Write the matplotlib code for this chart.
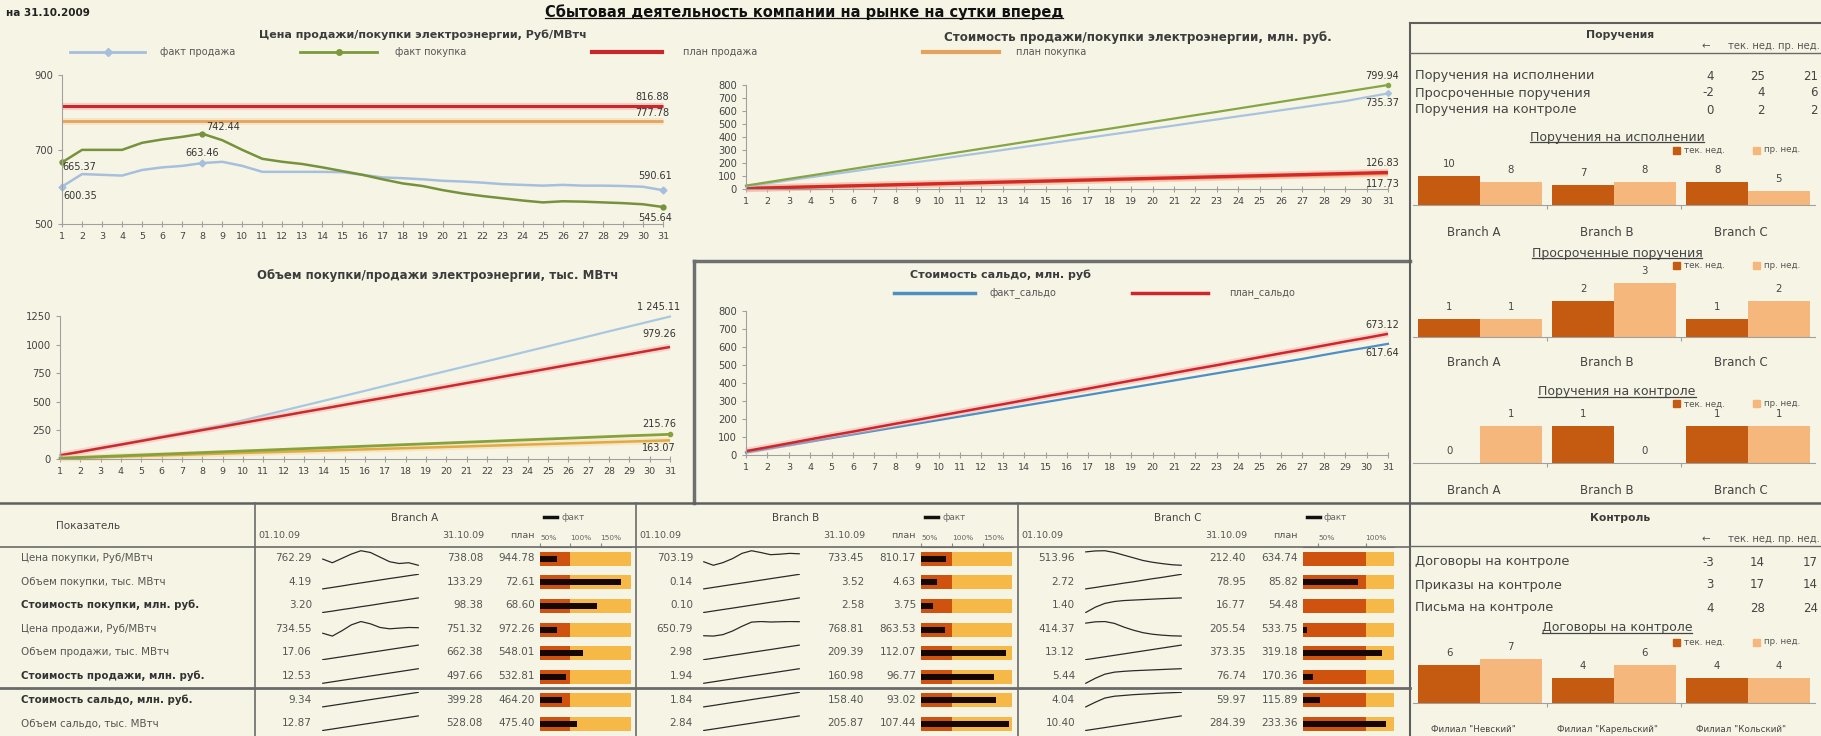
import matplotlib
matplotlib.use("Agg")
import matplotlib.pyplot as plt
from matplotlib.lines import Line2D
from matplotlib.patches import Rectangle

plt.rcParams["font.family"] = ["DejaVu Sans"]

# ---------------- данные ----------------
days = list(range(1, 32))

# цена, Руб/МВтч
sale_price_fact = [600.35, 634, 632, 630, 645, 652, 656, 663.46, 667, 656, 640, 640, 640, 640, 639, 632,
                   625, 623, 620, 616, 614, 611, 607, 605, 603, 605, 603, 603, 602, 600, 590.61]
buy_price_fact = [665.37, 699, 699, 699, 718, 727, 734, 742.44, 725, 699, 675, 667, 661, 652, 642, 632,
                  620, 609, 602, 591, 582, 575, 569, 563, 558, 561, 560, 558, 556, 553, 545.64]
sale_price_plan = 816.88
buy_price_plan = 777.78

# стоимость, млн. руб. (накопительно)
sale_cost_plan = [26, 52, 78, 103, 129, 155, 181, 206, 232, 258, 284, 310, 335, 361, 387, 413,
                  439, 464, 490, 516, 542, 568, 593, 619, 645, 671, 697, 722, 748, 774, 799.94]
sale_cost_fact = [19.9, 43, 67, 90, 113, 136, 160, 183, 207, 230, 254, 277, 300, 324, 347, 371,
                  394, 418, 441, 465, 488, 512, 535, 559, 582, 606, 629, 653, 676, 706, 735.37]
buy_cost_plan = [4.1, 8.2, 12.3, 16.4, 20.5, 24.5, 28.6, 32.7, 36.8, 40.9, 45.0, 49.1, 53.2, 57.3, 61.4, 65.5,
                 69.5, 73.6, 77.7, 81.8, 85.9, 90.0, 94.1, 98.2, 102.3, 106.4, 110.5, 114.6, 118.6, 122.7, 126.83]
buy_cost_fact = [4.7, 8.5, 12.3, 16.0, 19.8, 23.6, 27.4, 31.1, 34.9, 38.7, 42.4, 46.2, 50.0, 53.7, 57.5, 61.3,
                 65.0, 68.8, 72.6, 76.3, 80.1, 83.9, 87.6, 91.4, 95.2, 98.9, 102.7, 106.5, 110.2, 114.0, 117.73]

# объем, тыс. МВтч (накопительно)
sale_vol_fact = [33, 65, 97, 130, 163, 196, 229, 262, 295, 338, 381, 424, 467, 510, 553, 596,
                 640, 683, 726, 769, 812, 855, 898, 942, 985, 1029, 1072, 1116, 1159, 1202, 1245.11]
sale_vol_plan = [31.6, 63, 95, 126, 158, 190, 221, 253, 284, 316, 348, 379, 411, 442, 474, 506,
                 537, 569, 600, 632, 664, 695, 727, 758, 790, 822, 853, 885, 916, 948, 979.26]
buy_vol_fact = [7.1, 14, 21, 28, 35, 42, 49, 56, 63, 70, 77, 84, 91, 98, 105, 112,
                119, 126, 133, 140, 147, 154, 161, 168, 175, 182, 189, 196, 203, 209, 215.76]
buy_vol_plan = [5.3, 10.5, 15.8, 21.0, 26.3, 31.6, 36.8, 42.1, 47.3, 52.6, 57.9, 63.1, 68.4, 73.6, 78.9, 84.2,
                89.4, 94.7, 99.9, 105.2, 110.4, 115.7, 121.0, 126.2, 131.5, 136.7, 142.0, 147.3, 152.5, 157.8, 163.07]

# сальдо, млн. руб.
saldo_plan = [21.7, 43, 65, 87, 109, 130, 152, 174, 195, 217, 239, 261, 282, 304, 326, 347,
              369, 391, 413, 434, 456, 478, 499, 521, 543, 565, 586, 608, 630, 651, 673.12]
saldo_fact = [14.2, 34, 54, 74, 94, 114, 134, 154, 174, 194, 214, 234, 254, 274, 294, 314,
              334, 354, 374, 394, 414, 434, 454, 474, 494, 514, 534, 556, 577, 597, 617.64]

# таблица по филиалам
row_labels = ["Цена покупки, Руб/МВтч", "Объем покупки, тыс. МВтч", "Стоимость покупки, млн. руб.",
              "Цена продажи, Руб/МВтч", "Объем продажи, тыс. МВтч", "Стоимость продажи, млн. руб.",
              "Стоимость сальдо, млн. руб.", "Объем сальдо, тыс. МВтч"]
bold_rows = [2, 5, 6]
branch_names = ["Branch A", "Branch B", "Branch C"]

a_start = [762.29, 4.19, 3.20, 734.55, 17.06, 12.53, 9.34, 12.87]
a_end = [738.08, 133.29, 98.38, 751.32, 662.38, 497.66, 399.28, 528.08]
a_plan = [944.78, 72.61, 68.60, 972.26, 548.01, 532.81, 464.20, 475.40]
b_start = [703.19, 0.14, 0.10, 650.79, 2.98, 1.94, 1.84, 2.84]
b_end = [733.45, 3.52, 2.58, 768.81, 209.39, 160.98, 158.40, 205.87]
b_plan = [810.17, 4.63, 3.75, 863.53, 112.07, 96.77, 93.02, 107.44]
c_start = [513.96, 2.72, 1.40, 414.37, 13.12, 5.44, 4.04, 10.40]
c_end = [212.40, 78.95, 16.77, 205.54, 373.35, 76.74, 59.97, 284.39]
c_plan = [634.74, 85.82, 54.48, 533.75, 319.18, 170.36, 115.89, 233.36]

a_spark = [
    [762.29, 748, 765, 782, 795, 788, 770, 752, 745, 748, 738.08],
    [4.19, 17, 30, 44, 57, 70, 83, 96, 108, 121, 133.29],
    [3.20, 12, 22, 31, 41, 50, 60, 70, 79, 89, 98.38],
    [734.55, 726, 742, 760, 770, 763, 752, 748, 750, 752, 751.32],
    [17.06, 82, 146, 210, 275, 340, 404, 469, 533, 598, 662.38],
    [12.53, 61, 110, 158, 206, 255, 303, 352, 400, 449, 497.66],
    [9.34, 48, 87, 126, 165, 204, 243, 282, 321, 360, 399.28],
    [12.87, 64, 116, 167, 219, 270, 322, 374, 425, 477, 528.08],
]
b_spark = [
    [703.19, 690, 700, 715, 735, 745, 738, 730, 732, 735, 733.45],
    [0.14, 0.48, 0.82, 1.16, 1.49, 1.83, 2.17, 2.51, 2.85, 3.18, 3.52],
    [0.10, 0.35, 0.60, 0.84, 1.09, 1.34, 1.59, 1.84, 2.08, 2.33, 2.58],
    [650.79, 648, 660, 690, 730, 765, 770, 766, 768, 770, 768.81],
    [2.98, 23, 44, 65, 85, 106, 127, 147, 168, 189, 209.39],
    [1.94, 18, 34, 50, 66, 82, 97, 113, 129, 145, 160.98],
    [1.84, 17, 33, 49, 64, 80, 96, 111, 127, 143, 158.40],
    [2.84, 23, 43, 64, 84, 104, 125, 145, 165, 186, 205.87],
]
c_spark = [
    [513.96, 535, 540, 500, 440, 380, 320, 280, 250, 225, 212.40],
    [2.72, 10, 18, 25, 33, 40, 48, 56, 63, 71, 78.95],
    [1.40, 7, 11, 13, 14, 14.5, 15, 15.5, 16, 16.4, 16.77],
    [414.37, 435, 440, 410, 350, 300, 260, 235, 220, 210, 205.54],
    [13.12, 49, 85, 121, 157, 193, 229, 265, 301, 337, 373.35],
    [5.44, 30, 50, 60, 64, 67, 69, 71, 73, 75, 76.74],
    [4.04, 22, 38, 45, 48, 51, 53, 55, 57, 58.5, 59.97],
    [10.40, 38, 65, 93, 120, 148, 175, 202, 230, 257, 284.39],
]

# поручения / контроль
orders_labels = ["Поручения на исполнении", "Просроченные поручения", "Поручения на контроле"]
orders_cur = [25, 4, 2]
orders_prev = [21, 6, 2]
exec_cur = [10, 7, 8]
exec_prev = [8, 8, 5]
overdue_cur = [1, 2, 1]
overdue_prev = [1, 3, 2]
oncontrol_cur = [0, 1, 1]
oncontrol_prev = [1, 0, 1]

control_labels = ["Договоры на контроле", "Приказы на контроле", "Письма на контроле"]
control_cur = [14, 17, 28]
control_prev = [17, 14, 24]
filials = ['Филиал "Невский"', 'Филиал "Карельский"', 'Филиал "Кольский"']
contracts_cur = [6, 4, 4]
contracts_prev = [7, 6, 4]

# ---------------- оформление ----------------
W, H = 1821, 736
BG = "#f6f5e5"
AXC = "#a0a0a0"
TXT = "#3c3c3c"
DARK = "#c55a11"
LIGHT = "#f5b77c"
B_DARK = "#cf520e"
B_LIGHT = "#f6b846"

fig = plt.figure(figsize=(W / 100, H / 100), dpi=100)
fig.patch.set_facecolor(BG)
underlined = []


def fx(x):
    return x / W


def fy(y):
    return 1 - y / H


def axes_px(x0, y0, x1, y1):
    ax = fig.add_axes([fx(x0), fy(y1), (x1 - x0) / W, (y1 - y0) / H])
    ax.set_facecolor("none")
    return ax


def text_px(x, y, s, **kw):
    kw.setdefault("va", "center")
    kw.setdefault("color", TXT)
    return fig.text(fx(x), fy(y), s, **kw)


def hline(x0, x1, y, color="#6a6a6a", lw=1.0):
    fig.add_artist(Line2D([fx(x0), fx(x1)], [fy(y), fy(y)], color=color, lw=lw))


def vline(x, y0, y1, color="#6a6a6a", lw=1.0):
    fig.add_artist(Line2D([fx(x), fx(x)], [fy(y0), fy(y1)], color=color, lw=lw))


def fmt(v):
    return f"{v:,.2f}".replace(",", " ")


def style_lines(ax, ylim, yticks):
    ax.set_xlim(1, 31)
    ax.set_ylim(*ylim)
    ax.set_xticks(days)
    ax.set_yticks(yticks)
    for s in ["top", "right"]:
        ax.spines[s].set_visible(False)
    for s in ["left", "bottom"]:
        ax.spines[s].set_color(AXC)
    ax.tick_params(axis="x", labelsize=6.8, color=AXC, labelcolor="#444", direction="inout", length=4, pad=4)
    ax.tick_params(axis="y", labelsize=7.2, color=AXC, labelcolor="#444", direction="out", length=3)


def label(ax, x, v, dx, dy, ha="center", va="bottom"):
    ax.annotate(fmt(v), (x, v), xytext=(dx, dy), textcoords="offset points",
                ha=ha, va=va, fontsize=7, color="#333", annotation_clip=False)


def glow_line(ax, x, y, color, glow, lw):
    ax.plot(x, y, color=glow, lw=lw + 3, alpha=0.45, clip_on=False, solid_capstyle="butt")
    ax.plot(x, y, color=color, lw=lw, clip_on=False, solid_capstyle="butt")


# ---- заголовок ----
text_px(6, 13, "на 31.10.2009", fontsize=7.5, fontweight="bold", color="#222")
underlined.append(text_px(804, 12, "Сбытовая деятельность компании на рынке на сутки вперед",
                          ha="center", fontsize=10.5, fontweight="bold", color="#111"))

text_px(423, 35, "Цена продажи/покупки электроэнергии, Руб/МВтч", ha="center", fontsize=8, fontweight="bold")
text_px(1138, 37, "Стоимость продажи/покупки электроэнергии, млн. руб.", ha="center", fontsize=8.6,
        fontweight="bold")

# общая легенда
legend_items = [(70, 145, 160, "факт продажа", "#a6bfdc", "D"),
                (300, 377, 395, "факт покупка", "#7a9a3c", "o"),
                (592, 662, 683, "план продажа", "#c8282a", None),
                (923, 999, 1016, "план покупка", "#e3a35f", None)]
for x0, x1, xt, name, col, mk in legend_items:
    fig.add_artist(Line2D([fx(x0), fx(x1)], [fy(52), fy(52)], color=col, lw=3 if mk is None else 2))
    if mk:
        fig.add_artist(Line2D([fx((x0 + x1) / 2)], [fy(52)], color=col, marker=mk, ms=4))
    text_px(xt, 52, name, fontsize=7, color="#555")

# ---- цена ----
ax1 = axes_px(62, 75, 663, 224)
style_lines(ax1, (500, 900), [500, 700, 900])
glow_line(ax1, [1, 31], [sale_price_plan] * 2, "#c8282a", "#f3a5a5", 2.2)
glow_line(ax1, [1, 31], [buy_price_plan] * 2, "#e3a35f", "#f7d4a4", 2.0)
ax1.plot(days, sale_price_fact, color="#a6bfdc", lw=1.8, marker="D", ms=3.5, markevery=[0, 7, 30], clip_on=False)
ax1.plot(days, buy_price_fact, color="#76923c", lw=1.8, marker="o", ms=3.5, markevery=[0, 7, 30], clip_on=False)
label(ax1, 31, sale_price_plan, -8, 3)
label(ax1, 31, buy_price_plan, -8, 2)
label(ax1, 1, buy_price_fact[0], 0, -3, ha="left", va="center")
label(ax1, 1, sale_price_fact[0], 1, -7, ha="left", va="center")
label(ax1, 8, sale_price_fact[7], 0, 4)
label(ax1, 8, buy_price_fact[7], 3, 1, ha="left")
label(ax1, 31, sale_price_fact[30], -6, 7)
label(ax1, 31, buy_price_fact[30], -6, -4, va="top")

# ---- стоимость ----
ax2 = axes_px(746, 85, 1388, 189)
style_lines(ax2, (0, 800), list(range(0, 801, 100)))
glow_line(ax2, days, buy_cost_fact, "#e9a14f", "#f7d1a0", 2.0)
glow_line(ax2, days, buy_cost_plan, "#d42a25", "#f2a3a0", 2.4)
ax2.plot(days, sale_cost_fact, color="#a9c3de", lw=1.6, marker="D", ms=3, markevery=[30], clip_on=False)
ax2.plot(days, sale_cost_plan, color="#86a545", lw=1.6, marker="o", ms=3, markevery=[30], clip_on=False)
label(ax2, 31, sale_cost_plan[30], -4, 3)
label(ax2, 31, sale_cost_fact[30], -4, -3, va="top")
label(ax2, 31, buy_cost_plan[30], -4, 3)
label(ax2, 31, buy_cost_fact[30], -4, -4, va="top")

# ---- объем ----
text_px(438, 275, "Объем покупки/продажи электроэнергии, тыс. МВтч", ha="center", fontsize=8.5,
        fontweight="bold")
ax3 = axes_px(60, 316, 670, 459)
style_lines(ax3, (0, 1250), [0, 250, 500, 750, 1000, 1250])
ax3.plot(days, sale_vol_fact, color="#a8c8df", lw=1.6, clip_on=False)
glow_line(ax3, days, sale_vol_plan, "#cc2a2a", "#f2b0b0", 1.8)
glow_line(ax3, days, buy_vol_plan, "#e0aa45", "#f5d7a0", 1.8)
ax3.plot(days, buy_vol_fact, color="#86a23c", lw=2.0, marker="o", ms=3, markevery=[30], clip_on=False)
label(ax3, 31, sale_vol_fact[30], -8, 3)
label(ax3, 31, sale_vol_plan[30], -8, 6)
label(ax3, 31, buy_vol_fact[30], -8, 4)
label(ax3, 31, buy_vol_plan[30], -8, -2, va="top")

# ---- сальдо ----
hline(694, 1410, 261, color="#6f6f6f", lw=2.5)
vline(694, 261, 503, color="#6f6f6f", lw=2.5)
text_px(1000, 275, "Стоимость сальдо, млн. руб", ha="center", fontsize=8, fontweight="bold")
for x0, x1, xt, name, col in [(894, 975, 990, "факт_сальдо", "#4d8fc4"),
                              (1132, 1208, 1229, "план_сальдо", "#d0252b")]:
    fig.add_artist(Line2D([fx(x0), fx(x1)], [fy(293), fy(293)], color=col, lw=2.5))
    text_px(xt, 293, name, fontsize=7, color="#555")
ax4 = axes_px(746, 311, 1388, 455)
style_lines(ax4, (0, 800), list(range(0, 801, 100)))
ax4.plot(days, saldo_fact, color="#4d8fc4", lw=1.6, clip_on=False)
glow_line(ax4, days, saldo_plan, "#d0252b", "#f2a8a8", 1.8)
label(ax4, 31, saldo_plan[30], -4, 3)
label(ax4, 31, saldo_fact[30], -4, -3, va="top")

# ---- рамки ----
hline(0, 1821, 503, color="#5f5f5f", lw=1.8)
vline(1410, 23, 736, color="#5f5f5f", lw=1.5)
hline(1410, 1821, 23, color="#5f5f5f", lw=1.5)


# ---- правая панель ----
def mini_table(title, title_y, head_y, rows_y, labels, cur, prev):
    text_px(1620, title_y, title, ha="center", fontsize=7.8, fontweight="bold")
    text_px(1706, head_y, "←", ha="center", fontsize=7.5, color="#555")
    text_px(1752, head_y, "тек. нед.", ha="center", fontsize=7.2, color="#555")
    text_px(1820, head_y, "пр. нед.", ha="right", fontsize=7.2, color="#555")
    hline(1410, 1821, head_y + 7, color="#6a6a6a", lw=1.0)
    for y, name, c, p in zip(rows_y, labels, cur, prev):
        text_px(1415, y, name, fontsize=9.3, color="#444")
        text_px(1714, y, str(c - p), ha="right", fontsize=8.5, color="#444")
        text_px(1765, y, str(c), ha="right", fontsize=8.5, color="#444")
        text_px(1818, y, str(p), ha="right", fontsize=8.5, color="#444")


def bar_chart(title, title_y, legend_y, top, base, ymax, cats, cur, prev, cat_y, cat_size):
    underlined.append(text_px(1617, title_y, title, ha="center", fontsize=9, color="#444"))
    for x0, col, name in [(1673, DARK, "тек. нед."), (1753, LIGHT, "пр. нед.")]:
        fig.add_artist(Rectangle((fx(x0), fy(legend_y + 3.5)), 7 / W, 7 / H, color=col,
                                 transform=fig.transFigure))
        text_px(x0 + 11, legend_y, name, fontsize=6.3, color="#555")
    ax = axes_px(1413, top, 1815, base)
    pos = list(range(len(cats)))
    b1 = ax.bar([p - 0.23 for p in pos], cur, width=0.46, color=DARK)
    b2 = ax.bar([p + 0.23 for p in pos], prev, width=0.46, color=LIGHT)
    for bars, vals in ((b1, cur), (b2, prev)):
        for r, v in zip(bars, vals):
            ax.annotate(str(v), (r.get_x() + r.get_width() / 2, v), xytext=(0, 5),
                        textcoords="offset points", ha="center", va="bottom", fontsize=7.3, color="#444")
    for p, c in zip(pos, cats):
        ax.annotate(c, (p - 0.05, 0), xytext=(0, -(cat_y - base) * 0.72), textcoords="offset points",
                    ha="center", va="center", fontsize=cat_size, color="#444", annotation_clip=False)
    ax.set_xlim(-0.5, 2.5)
    ax.set_ylim(0, ymax)
    ax.set_yticks([])
    ax.set_xticks([0.5, 1.5], ["", ""])
    ax.tick_params(axis="x", length=3, color=AXC)
    for s in ["top", "right", "left"]:
        ax.spines[s].set_visible(False)
    ax.spines["bottom"].set_color(AXC)


mini_table("Поручения", 35, 46, [76, 93, 110], orders_labels, orders_cur, orders_prev)
bar_chart("Поручения на исполнении", 137, 150, 150, 205, 19, branch_names, exec_cur, exec_prev, 233, 8.5)
bar_chart("Просроченные поручения", 253, 265, 265, 337, 4, branch_names, overdue_cur, overdue_prev, 363, 8.5)
bar_chart("Поручения на контроле", 392, 404, 404, 463, 1.58, branch_names, oncontrol_cur, oncontrol_prev, 490, 8.5)

mini_table("Контроль", 518, 539, [562, 585, 608], control_labels, control_cur, control_prev)
bar_chart("Договоры на контроле", 628, 642, 642, 703, 9.7, filials, contracts_cur, contracts_prev, 730, 6.3)

# ---- нижняя таблица ----
rows_y = [558 + 23.6 * i for i in range(8)]
hline(0, 1410, 547, color="#6a6a6a", lw=1.2)
hline(0, 1410, 688, color="#6a6a6a", lw=2.0)
for x in (255, 636, 1018):
    vline(x, 503, 736, color="#6a6a6a", lw=1.2)

text_px(88, 526, "Показатель", ha="center", fontsize=7.5, color="#444")
for i, (y, name) in enumerate(zip(rows_y, row_labels)):
    text_px(21, y, name, fontsize=7.4, color="#333" if i in bold_rows else "#555",
            fontweight="bold" if i in bold_rows else "normal")

branches = [(255, branch_names[0], a_start, a_end, a_plan, a_spark, (50, 200), [50, 100, 150]),
            (636, branch_names[1], b_start, b_end, b_plan, b_spark, (50, 196), [50, 100, 150]),
            (1018, branch_names[2], c_start, c_end, c_plan, c_spark, (34, 130), [50, 100])]

for o, name, start, end, plan, spark, (lo, hi), ticks in branches:
    text_px(o + 160, 518, name, ha="center", fontsize=7.5, color="#444")
    text_px(o + 3, 536, "01.10.09", fontsize=6.8, color="#555")
    text_px(o + 229, 536, "31.10.09", ha="right", fontsize=6.8, color="#555")
    text_px(o + 280, 536, "план", ha="right", fontsize=6.8, color="#555")
    fig.add_artist(Line2D([fx(o + 289), fx(o + 302)], [fy(517), fy(517)], color="#111", lw=2.5))
    text_px(o + 306, 517, "факт", fontsize=6.3, color="#666")
    for i, y in enumerate(rows_y):
        text_px(o + 57, y, f"{start[i]:.2f}", ha="right", fontsize=7.5, color="#555")
        text_px(o + 228, y, f"{end[i]:.2f}", ha="right", fontsize=7.5, color="#555")
        text_px(o + 280, y, f"{plan[i]:.2f}", ha="right", fontsize=7.5, color="#555")
        sax = axes_px(o + 63, y - 8, o + 168, y + 8)
        sax.plot(range(len(spark[i])), spark[i], color="#2a2a2a", lw=0.9)
        sax.axis("off")
    bax = axes_px(o + 285, 547, o + 376, 735.8)
    n = len(end)
    ratios = [e / p * 100 for e, p in zip(end, plan)]
    bax.barh(range(n), [hi - lo] * n, left=lo, height=0.6, color=B_LIGHT)
    bax.barh(range(n), [100 - lo] * n, left=lo, height=0.6, color=B_DARK)
    for i, r in enumerate(ratios):
        if r > lo:
            bax.barh(i, min(r, hi) - lo, left=lo, height=0.26, color="#140800")
    bax.set_xlim(lo, hi)
    bax.set_ylim(n - 0.5, -0.5)
    bax.xaxis.tick_top()
    bax.set_xticks(ticks, [f"{t}%" for t in ticks])
    for tl in bax.get_xticklabels():
        tl.set_ha("left")
    bax.tick_params(axis="x", labelsize=5.3, length=3, color="#888", labelcolor="#666", pad=1)
    bax.set_yticks([])
    for s in ["left", "right", "bottom"]:
        bax.spines[s].set_visible(False)
    bax.spines["top"].set_color("#888")

# подчеркивания
fig.canvas.draw()
rend = fig.canvas.get_renderer()
for t in underlined:
    bb = t.get_window_extent(rend)
    yy = (bb.y0 + 1.5) / H
    fig.add_artist(Line2D([bb.x0 / W, bb.x1 / W], [yy, yy], color=t.get_color(), lw=0.9))

fig.savefig("out.png", dpi=100, facecolor=BG)
